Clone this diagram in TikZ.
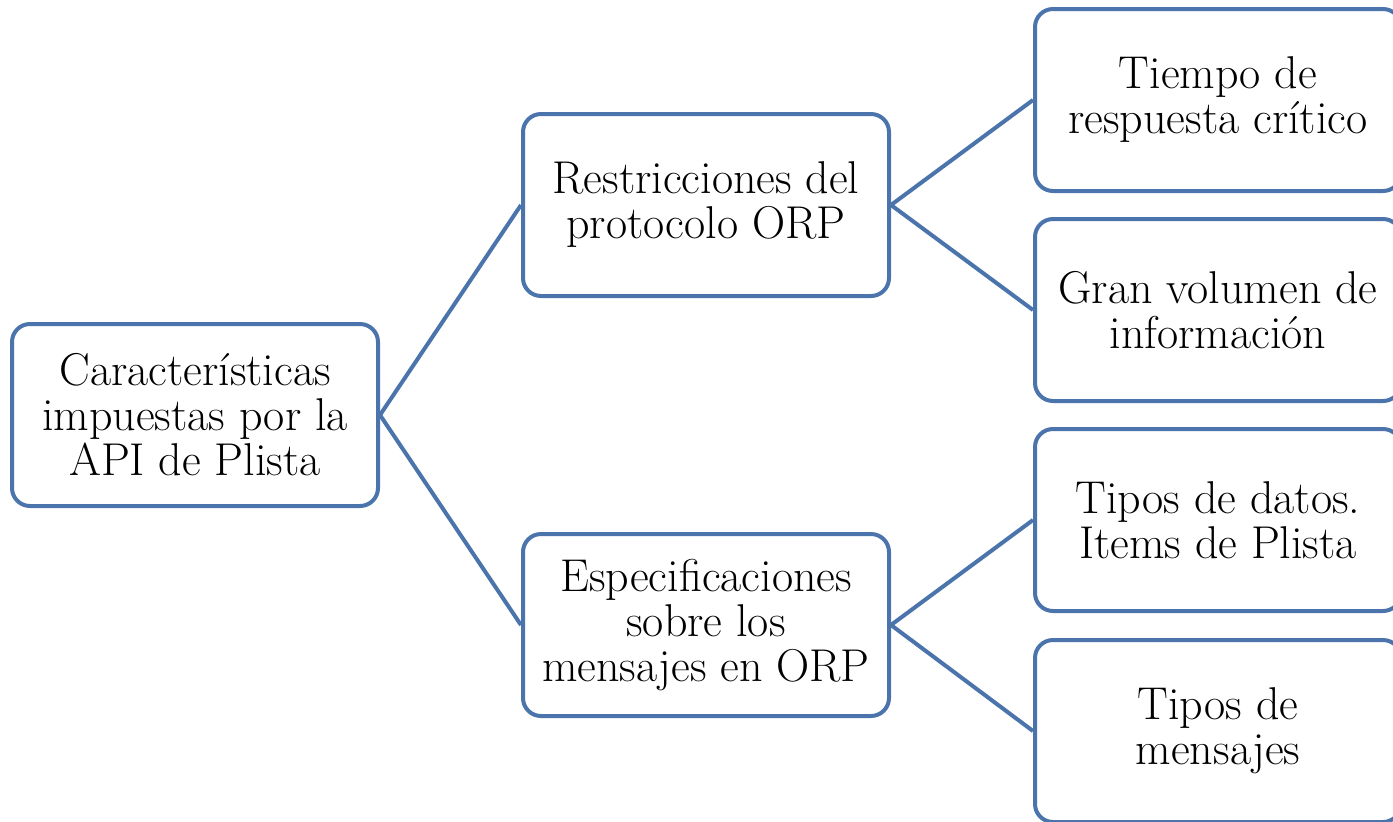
\documentclass[tikz,border=0pt]{standalone}
\usetikzlibrary{positioning}
\definecolor{plBlue}{HTML}{4A74AB}
\tikzset{
  box/.style={rounded corners=9pt, draw=plBlue, line width=2pt, fill=white,
              align=center, minimum width=183pt, minimum height=91pt,
              inner sep=2pt, font=\fontsize{23}{22.5}\selectfont},
  link/.style={draw=plBlue, line width=2pt},
}
\begin{document}
\begin{tikzpicture}[x=0.5pt,y=-0.5pt]
  \useasboundingbox (0,0) rectangle (1393,821);
  \node[box] (root) at (195,415) {Características\\impuestas por la\\API de Plista};
  \node[box] (orp)  at (706,205) {Restricciones del\\protocolo ORP};
  \node[box] (msg)  at (706,625) {Especificaciones\\sobre los\\mensajes en ORP};
  \node[box] (tiempo) at (1218,100) {Tiempo de\\respuesta crítico};
  \node[box] (volumen) at (1218,310) {Gran volumen de\\información};
  \node[box] (datos) at (1218,520) {Tipos de datos.\\Items de Plista};
  \node[box] (tipos) at (1218,731) {Tipos de\\mensajes};
  \foreach \a/\b in {root/orp,root/msg,orp/tiempo,orp/volumen,msg/datos,msg/tipos}{
    \draw[link] (\a.east) -- (\b.west);
  }
\end{tikzpicture}
\end{document}
